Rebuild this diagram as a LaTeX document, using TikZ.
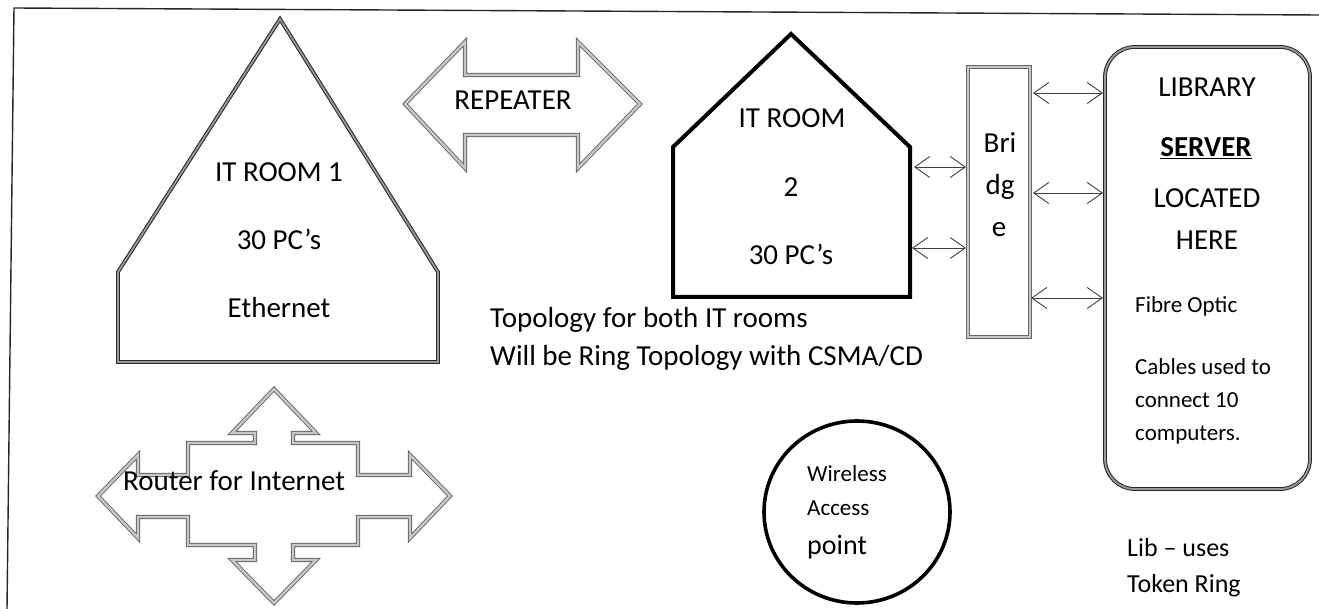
\documentclass[tikz,border=0pt]{standalone}
\usepackage{fontspec}
\setmainfont{Carlito}
\usetikzlibrary{arrows.meta}
\begin{document}
\begin{tikzpicture}[x=1pt,y=-1pt,
  big/.style={inner sep=0pt, anchor=base, font=\fontsize{29}{35}\selectfont},
  bigleft/.style={inner sep=0pt, anchor=base west, font=\fontsize{29}{35}\selectfont},
  small/.style={inner sep=0pt, anchor=base west, font=\fontsize{23}{28}\selectfont},
  mid/.style={inner sep=0pt, anchor=base west, font=\fontsize{26}{31}\selectfont},
  darkscan/.style={draw=black!85, line width=1pt, double=black!40, double distance=1.8pt, line join=miter},
  lightscan/.style={draw=black!60, line width=0.9pt, double=black!22, double distance=2.4pt, line join=miter},
  solidline/.style={draw=black, line width=4pt, line join=miter},
  link/.style={draw=black!75, line width=0.9pt,
    {Straight Barb[length=15pt,width=21pt,line width=0.9pt]}-{Straight Barb[length=15pt,width=21pt,line width=0.9pt]}},
]
\useasboundingbox (0,0) rectangle (1319,609);
\fill[white] (0,0) rectangle (1319,609);

% page frame
\draw[line width=1.4pt, black!85] (7,609) -- (14,8) -- (1319,15);

% IT ROOM 1
\draw[darkscan] (280,19) -- (438,272) -- (438,362) -- (118,362) -- (118,272) -- cycle;
\node[big] (r1a) at (279,182) {IT ROOM 1};
\node[big] (r1b) at (279,250) {30 PC’s};
\node[big] (r1c) at (279,318) {Ethernet};

% Repeater
\draw[lightscan] (405,104) -- (465,42) -- (465,75) -- (578,75) -- (578,42) -- (640,104)
  -- (578,168) -- (578,135) -- (465,135) -- (465,168) -- cycle;
\node[big] (rep) at (513,110) {REPEATER};

% IT ROOM 2
\draw[solidline] (791,34) -- (910,147) -- (910,297) -- (673,297) -- (673,147) -- cycle;
\node[big] (r2a) at (792,128) {IT ROOM};
\node[big] (r2b) at (791,197) {2};
\node[big] (r2c) at (791,265) {30 PC’s};

% Bridge
\node[lightscan, minimum width=62pt, minimum height=270pt, inner sep=0pt] (bridge) at (999,202) {};
\node[big] (bra) at (1000,153) {Bri};
\node[big] (brb) at (1000,195) {dg};
\node[big] (brc) at (999,237) {e};

% Library
\node[darkscan, rounded corners=30pt, minimum width=205pt, minimum height=442pt, inner sep=0pt] (lib) at (1207.5,268) {};
\node[big] (liba) at (1207,97) {LIBRARY};
\node[big, font=\fontsize{29}{35}\selectfont\bfseries] (libb) at (1206,157) {\underline{SERVER}};
\node[big] (libc) at (1207,208) {LOCATED};
\node[big] (libd) at (1207,250) {HERE};
\node[small] (libe) at (1135,313) {Fibre Optic};
\node[small] (libf) at (1135,374) {Cables used to};
\node[small] (libg) at (1135,407) {connect 10};
\node[small] (libh) at (1135,440) {computers.};

% connectors
\coordinate (it2a) at (914,167);
\coordinate (bra1) at (966,167);
\coordinate (it2b) at (912,248);
\coordinate (bra2) at (966,248);
\coordinate (brr1) at (1033,93);
\coordinate (lib1) at (1103,93);
\coordinate (brr2) at (1033,193);
\coordinate (lib2) at (1103,193);
\coordinate (brr3) at (1031,298);
\coordinate (lib3) at (1103,298);
\draw[link] (it2a) -- (bra1);
\draw[link] (it2b) -- (bra2);
\draw[link] (brr1) -- (lib1);
\draw[link] (brr2) -- (lib2);
\draw[link] (brr3) -- (lib3);

% Topology text
\node[bigleft] (topo1) at (490,328) {Topology for both IT rooms};
\node[bigleft] (topo2) at (490,365) {Will be Ring Topology with CSMA/CD};

% Router
\draw[lightscan] (274,389) -- (316,433) -- (293,433) -- (293,443) -- (358,443) -- (358,475)
  -- (410,475) -- (410,455) -- (450,496) -- (410,538) -- (410,517) -- (358,517) -- (358,545)
  -- (293,545) -- (293,560) -- (316,560) -- (274,603) -- (232,560) -- (255,560) -- (255,545)
  -- (188,545) -- (188,517) -- (138,517) -- (138,538) -- (98,496) -- (138,455) -- (138,475)
  -- (188,475) -- (188,443) -- (255,443) -- (255,433) -- (232,433) -- cycle;
\node[bigleft] (rout) at (123,490) {Router for Internet};

% Wireless access point
\draw[draw=black, line width=3.6pt] (857,512) ellipse (93pt and 91pt);
\node[small] (wa) at (807,481) {Wireless};
\node[small] (wb) at (807,515) {Access};
\node[bigleft, font=\fontsize{28}{34}\selectfont] (wc) at (807,554) {point};

% Lib note
\node[mid] (nt1) at (1127,556) {Lib – uses};
\node[mid] (nt2) at (1127,592) {Token Ring};
\end{tikzpicture}
\end{document}
